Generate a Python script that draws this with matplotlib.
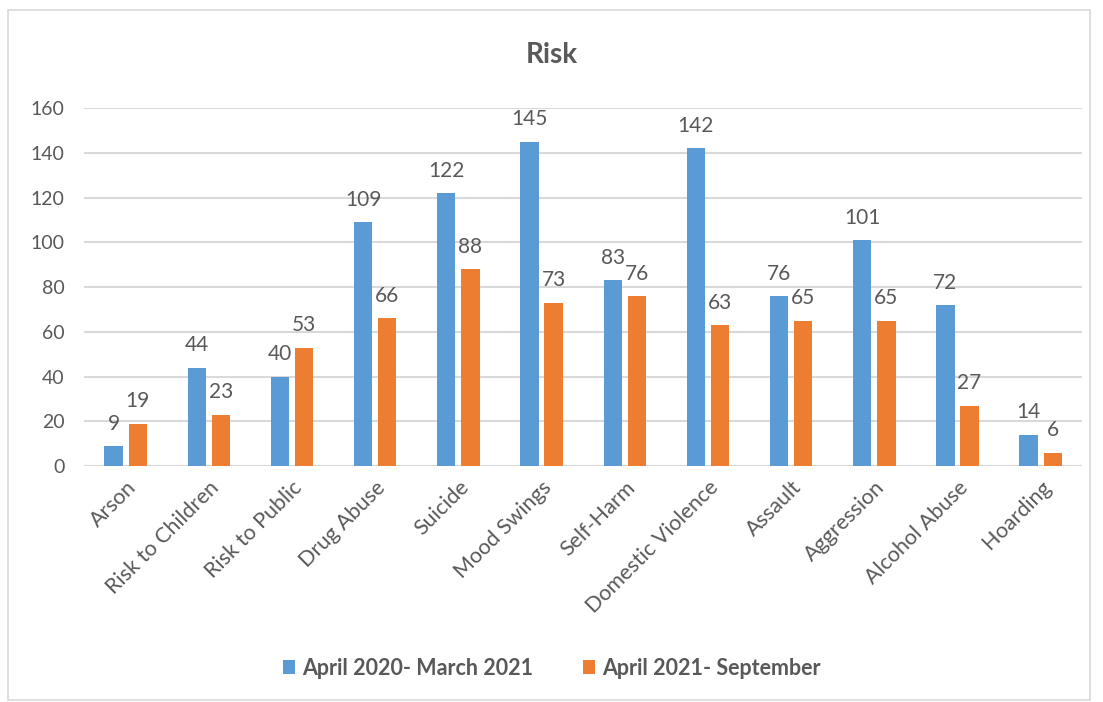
import matplotlib.pyplot as plt
import numpy as np
from matplotlib.patches import Rectangle

categories = ["Arson", "Risk to Children", "Risk to Public", "Drug Abuse", "Suicide",
              "Mood Swings", "Self-Harm", "Domestic Violence", "Assault", "Aggression",
              "Alcohol Abuse", "Hoarding"]
period_1 = [9, 44, 40, 109, 122, 145, 83, 142, 76, 101, 72, 14]
period_2 = [19, 23, 53, 66, 88, 73, 76, 63, 65, 65, 27, 6]
series_names = ["April 2020- March 2021", "April 2021- September"]

BLUE = "#5b9bd5"
ORANGE = "#ed7d31"
TEXT = "#595959"

plt.rcParams["font.family"] = ["Lato", "DejaVu Sans"]

fig = plt.figure(figsize=(11.03, 7.02), dpi=100)
ax = fig.add_axes([0.0762, 0.336, 0.905, 0.51])

# outer chart border
fig.patches.append(Rectangle((0.007, 0.003), 0.981, 0.983, transform=fig.transFigure,
                             fill=False, edgecolor="#d9d9d9", linewidth=1.2))

x = np.arange(len(categories))
w = 0.22
off = 0.145
b1 = ax.bar(x - off, period_1, w, color=BLUE, label=series_names[0], zorder=3)
b2 = ax.bar(x + off, period_2, w, color=ORANGE, label=series_names[1], zorder=3)

for bars in (b1, b2):
    for rect in bars:
        h = rect.get_height()
        ax.text(rect.get_x() + rect.get_width() / 2, h + 5.5, f"{h:g}",
                ha="center", va="bottom", fontsize=15, color=TEXT)

ax.set_xlim(-0.5, len(categories) - 0.5)
ax.set_ylim(0, 160)
ax.set_yticks(range(0, 161, 20))
ax.grid(axis="y", color="#d9d9d9", linewidth=1.5, zorder=0)
for s in ax.spines.values():
    s.set_visible(False)
ax.tick_params(axis="y", length=0, labelsize=14, labelcolor=TEXT, pad=14)
ax.tick_params(axis="x", length=0, labelsize=15.5, labelcolor=TEXT, pad=8)
ax.set_xticks(x)
ax.set_xticklabels(categories, rotation=45, ha="right", rotation_mode="anchor")

fig.text(0.5, 0.922, "Risk", ha="center", va="center", fontsize=20,
         fontweight="bold", color=TEXT)

leg = fig.legend(handles=[b1, b2], loc="center", bbox_to_anchor=(0.5, 0.048), ncol=2,
                 frameon=False, fontsize=15.5, handlelength=0.6, handleheight=0.6,
                 columnspacing=2.3, handletextpad=0.3)
for t in leg.get_texts():
    t.set_color(TEXT)
    t.set_fontweight("bold")

fig.savefig("out.png", dpi=100)
